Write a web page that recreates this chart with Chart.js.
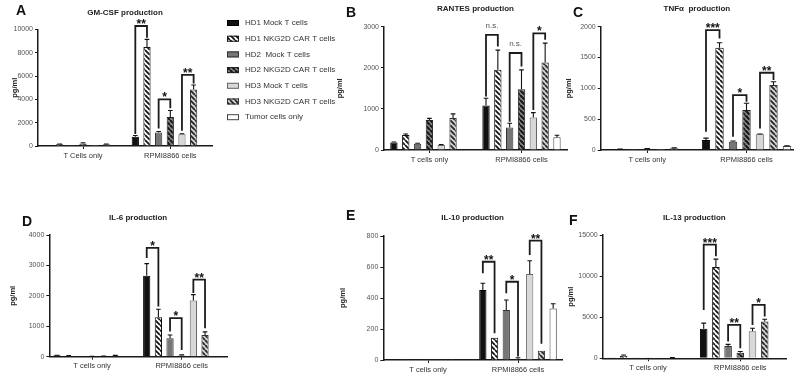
<!DOCTYPE html>
<html><head><meta charset="utf-8">
<script src="https://cdn.jsdelivr.net/npm/chart.js@4.4.1/dist/chart.umd.min.js"></script>
<style>
html,body{margin:0;padding:0;background:#fff;}
#wrap{position:relative;width:800px;height:381px;overflow:hidden;background:#fff;}
#wrap canvas{position:absolute;left:0;top:0;}
</style></head><body>
<div id="wrap">
<canvas id="cA" width="800" height="381"></canvas>
<canvas id="cB" width="800" height="381"></canvas>
<canvas id="cC" width="800" height="381"></canvas>
<canvas id="cD" width="800" height="381"></canvas>
<canvas id="cE" width="800" height="381"></canvas>
<canvas id="cF" width="800" height="381"></canvas>
</div>
<script>
// ---------- DATA ----------
const seriesNames = ['HD1 Mock T cells','HD1 NKG2D CAR T cells','HD2  Mock T cells','HD2 NKG2D CAR T cells','HD3 Mock T cells','HD3 NKG2D CAR T cells','Tumor cells only'];
const categoriesA = ['T Cells only','RPMI8866 cells'];
const categories = ['T cells only','RPMI8866 cells'];

// A: GM-CSF (pg/ml)
const gmcsfTcells    = [10, 140, 10, 220, 10, 140, null];
const gmcsfTcellsErr = [0, 30, 0, 60, 0, 30, null];
const gmcsfRpmi      = [800, 8500, 1150, 2500, 1000, 4850, null];
const gmcsfRpmiErr   = [100, 650, 100, 550, 50, 380, null];
const gmcsfTicks     = [0, 2000, 4000, 6000, 8000, 10000];
// [left series, right series, bracket top, left leg end, right leg end, label]
const gmcsfSig = [[0,1,10300,1030,9300,'**'],[2,3,4000,1500,3230,'*'],[4,5,6100,1300,5370,'**']];

// B: RANTES
const rantesTcells    = [180, 365, 150, 730, 120, 780, null];
const rantesTcellsErr = [15, 25, 15, 40, 15, 100, null];
const rantesRpmi      = [1080, 1950, 550, 1480, 790, 2130, 310];
const rantesRpmiErr   = [180, 480, 100, 470, 120, 470, 50];
const rantesTicks     = [0, 1000, 2000, 3000];
const rantesSig = [[0,1,2800,1300,2520,'n.s.'],[2,3,2360,690,2030,'n.s.'],[4,5,2840,975,2680,'*']];

// C: TNFa
const tnfTcells    = [2, 12, 2, 20, 2, 30, null];
const tnfTcellsErr = [0, 3, 0, 5, 0, 5, null];
const tnfRpmi      = [162, 1660, 135, 648, 254, 1053, 65];
const tnfRpmiErr   = [30, 80, 10, 110, 5, 55, 5];
const tnfTicks     = [0, 500, 1000, 1500, 2000];
const tnfSig = [[0,1,1945,297,1810,'***'],[2,3,890,216,783,'*'],[4,5,1253,350,1134,'**']];

// D: IL-6
const il6Tcells    = [45, 35, 5, 5, 15, 40, null];
const il6TcellsErr = [5, 5, 0, 10, 5, 5, null];
const il6Rpmi      = [2660, 1300, 605, 40, 1850, 715, null];
const il6RpmiErr   = [400, 260, 110, 20, 190, 100, null];
const il6Ticks     = [0, 1000, 2000, 3000, 4000];
const il6Sig = [[0,1,3575,3245,1650,'*'],[2,3,1265,825,220,'*'],[4,5,2530,2090,935,'**']];

// E: IL-10
const il10Tcells    = [2, 1, 2, 1, 2, 1, null];
const il10TcellsErr = [0, 0, 0, 0, 0, 0, null];
const il10Rpmi      = [452, 144, 322, 8, 555, 60, 333];
const il10RpmiErr   = [43, 0, 65, 7, 85, 0, 30];
const il10Ticks     = [0, 200, 400, 600, 800];
const il10Sig = [[0,1,634,560,172,'**'],[2,3,505,430,22,'*'],[4,5,770,677,105,'**']];

// F: IL-13
const il13Tcells    = [10, 300, 10, 10, 10, 60, null];
const il13TcellsErr = [0, 100, 0, 0, 0, 20, null];
const il13Rpmi      = [3580, 11100, 1500, 690, 3290, 4470, null];
const il13RpmiErr   = [700, 970, 200, 130, 370, 280, null];
const il13Ticks     = [0, 5000, 10000, 15000];
const il13Sig = [[0,1,13820,5890,12400,'***'],[2,3,4065,2030,1220,'**'],[4,5,6500,4065,5080,'*']];

// ---------- STYLE / LAYOUT ----------
const FONT = "'Liberation Sans', Arial, sans-serif";
const AXIS = '#1a1a1a';

function stripe(bg, fg, period, lw) {
  const c = document.createElement('canvas'); c.width = period; c.height = period;
  const g = c.getContext('2d');
  g.fillStyle = bg; g.fillRect(0, 0, period, period);
  g.strokeStyle = fg; g.lineWidth = lw;
  g.beginPath();
  for (const o of [-period, 0, period]) { g.moveTo(o, 0); g.lineTo(o + period, period); }
  g.stroke();
  return g.createPattern(c, 'repeat');
}
const styles = [
  {bg: '#111111', border: '#000'},
  {bg: stripe('#ffffff', '#161616', 5, 1.8), border: '#111'},
  {bg: '#767676', border: '#333'},
  {bg: stripe('#8c8c8c', '#1a1a1a', 5, 2.2), border: '#222'},
  {bg: '#d8d8d8', border: '#666'},
  {bg: stripe('#d4d4d4', '#262626', 5, 1.8), border: '#333'},
  {bg: '#ffffff', border: '#444'}
];

const panels = [
  {id:'cA', letter:'A', title:'GM-CSF production', cats:categoriesA, tc:gmcsfTcells, tcE:gmcsfTcellsErr, rp:gmcsfRpmi, rpE:gmcsfRpmiErr, ticks:gmcsfTicks, sig:gmcsfSig,
   lay:{L:38, R:212, top:29.5, bottom:146, c1:83, c2:170.3, s:11.66, yW:32, titleY:12.7, lx:16, ly:11}, legend:true},
  {id:'cB', letter:'B', title:'RANTES production', cats:categories, tc:rantesTcells, tcE:rantesTcellsErr, rp:rantesRpmi, rpE:rantesRpmiErr, ticks:rantesTicks, sig:rantesSig,
   lay:{L:384, R:567, top:26.7, bottom:150, c1:429.4, c2:521.5, s:11.83, yW:53, titleY:8.3, lx:346, ly:13}},
  {id:'cC', letter:'C', title:'TNF\u03B1  production', cats:categories, tc:tnfTcells, tcE:tnfTcellsErr, rp:tnfRpmi, rpE:tnfRpmiErr, ticks:tnfTicks, sig:tnfSig,
   lay:{L:600.7, R:793, top:26.7, bottom:150, c1:647.2, c2:746.5, s:13.5, yW:40, titleY:8.3, lx:573, ly:13}},
  {id:'cD', letter:'D', title:'IL-6 production', cats:categories, tc:il6Tcells, tcE:il6TcellsErr, rp:il6Rpmi, rpE:il6RpmiErr, ticks:il6Ticks, sig:il6Sig,
   lay:{L:49.3, R:227, top:235, bottom:356.7, c1:92, c2:181.7, s:11.66, yW:45, titleY:218, lx:22, ly:222}},
  {id:'cE', letter:'E', title:'IL-10 production', cats:categories, tc:il10Tcells, tcE:il10TcellsErr, rp:il10Rpmi, rpE:il10RpmiErr, ticks:il10Ticks, sig:il10Sig,
   lay:{L:383.3, R:562, top:236, bottom:360, c1:428, c2:518, s:11.72, yW:49, titleY:218, lx:346, ly:216}},
  {id:'cF', letter:'F', title:'IL-13 production', cats:categories, tc:il13Tcells, tcE:il13TcellsErr, rp:il13Rpmi, rpE:il13RpmiErr, ticks:il13Ticks, sig:il13Sig,
   lay:{L:602.7, R:786, top:235, bottom:358.3, c1:648, c2:740.3, s:12.2, yW:40, titleY:218, lx:569, ly:221}}
];

const errorPlugin = {
  id: 'errorBars',
  afterDatasetsDraw(chart) {
    const ctx = chart.ctx, ys = chart.scales.y;
    ctx.save();
    ctx.strokeStyle = '#111'; ctx.lineWidth = 1.1;
    chart.data.datasets.forEach((ds, i) => {
      const meta = chart.getDatasetMeta(i);
      meta.data.forEach((el, j) => {
        const v = ds.data[j].y, e = ds.errors[j];
        if (v == null || !e) return;
        const y1 = ys.getPixelForValue(v + e);
        const half = el.width * 0.32;
        ctx.beginPath();
        ctx.moveTo(el.x, el.y); ctx.lineTo(el.x, y1);
        ctx.moveTo(el.x - half, y1); ctx.lineTo(el.x + half, y1);
        ctx.stroke();
      });
    });
    ctx.restore();
  }
};

function makeSigPlugin(sig) {
  return {
    id: 'sig',
    afterDatasetsDraw(chart) {
      const ctx = chart.ctx, ys = chart.scales.y;
      ctx.save();
      sig.forEach(([a, b, top, ya, yb, lab]) => {
        const xa = chart.getDatasetMeta(a).data[1].x;
        const xb = chart.getDatasetMeta(b).data[1].x;
        const yt = ys.getPixelForValue(top);
        ctx.strokeStyle = '#1c1c1c'; ctx.lineWidth = 1.8; ctx.lineJoin = 'miter';
        ctx.beginPath();
        ctx.moveTo(xa, ys.getPixelForValue(ya));
        ctx.lineTo(xa, yt); ctx.lineTo(xb, yt);
        ctx.lineTo(xb, ys.getPixelForValue(yb));
        ctx.stroke();
        ctx.textAlign = 'center'; ctx.textBaseline = 'alphabetic';
        if (lab === 'n.s.') {
          ctx.fillStyle = '#555'; ctx.font = '8px ' + FONT;
          ctx.fillText(lab, (xa + xb) / 2, yt - 7);
        } else {
          ctx.fillStyle = '#111'; ctx.font = 'bold 12px ' + FONT;
          ctx.fillText(lab, (xa + xb) / 2, yt + 2);
        }
      });
      ctx.restore();
    }
  };
}

function makeTextPlugin(p) {
  return {
    id: 'panelText',
    afterDraw(chart) {
      const ctx = chart.ctx, ca = chart.chartArea;
      ctx.save();
      ctx.fillStyle = '#222';
      ctx.textAlign = 'center'; ctx.textBaseline = 'middle';
      ctx.font = 'bold 8px ' + FONT;
      ctx.fillText(p.title, (ca.left + ca.right) / 2, p.lay.titleY);
      ctx.textAlign = 'left';
      ctx.font = 'bold 14px ' + FONT;
      ctx.fillStyle = '#111';
      ctx.fillText(p.letter, p.lay.lx, p.lay.ly);
      if (p.legend) {
        ctx.font = '8px ' + FONT;
        chart.data.datasets.forEach((ds, i) => {
          const y = 23 + i * 15.7;
          ctx.fillStyle = ds.backgroundColor;
          ctx.fillRect(227, y - 3, 12, 6);
          ctx.strokeStyle = ds.borderColor; ctx.lineWidth = 1;
          ctx.strokeRect(227.5, y - 2.5, 11, 5);
          ctx.fillStyle = '#333';
          ctx.fillText(ds.label, 245, y);
        });
      }
      ctx.restore();
    }
  };
}

function build(p) {
  const lay = p.lay;
  const D = lay.c2 - lay.c1;
  const xmin = -(lay.c1 - lay.L) / D, xmax = 1 + (lay.R - lay.c2) / D;
  const xH = 24;
  const datasets = seriesNames.map((name, i) => ({
    label: name,
    data: [{x: 0, y: p.tc[i]}, {x: 1, y: p.rp[i]}],
    errors: [p.tcE[i], p.rpE[i]],
    backgroundColor: styles[i].bg,
    borderColor: styles[i].border,
    borderWidth: 1,
    categoryPercentage: 7 * lay.s / D,
    barPercentage: 0.62
  }));
  new Chart(document.getElementById(p.id), {
    type: 'bar',
    data: {datasets},
    options: {
      responsive: false, animation: false, devicePixelRatio: 1, events: [],
      layout: {padding: {left: lay.L - lay.yW, right: 800 - lay.R, top: lay.top, bottom: 381 - lay.bottom - xH}},
      plugins: {legend: {display: false}, tooltip: {enabled: false}, title: {display: false}},
      scales: {
        x: {
          type: 'linear', min: xmin, max: xmax, offset: false, bounds: 'data', grace: 0,
          afterBuildTicks: s => { s.ticks = [{value: 0}, {value: 1}]; },
          afterFit: s => { s.height = xH; },
          ticks: {callback: v => p.cats[v], font: {family: FONT, size: 7.5}, color: '#333', padding: 2, autoSkip: false, maxRotation: 0, includeBounds: false},
          grid: {display: true, offset: false, drawOnChartArea: false, drawTicks: true, tickLength: 3, color: AXIS, lineWidth: 1},
          border: {display: true, color: AXIS, width: 1.5}
        },
        y: {
          type: 'linear', min: 0, max: p.ticks[p.ticks.length - 1],
          afterBuildTicks: s => { s.ticks = p.ticks.map(v => ({value: v})); },
          afterFit: s => { s.width = lay.yW; },
          ticks: {callback: v => String(v), font: {family: FONT, size: 7}, color: '#555', padding: 2},
          grid: {display: true, drawOnChartArea: false, drawTicks: true, tickLength: 3, color: AXIS, lineWidth: 1},
          border: {display: true, color: AXIS, width: 1.5},
          title: {display: true, text: 'pg/ml', font: {family: FONT, size: 7.5, weight: 'bold'}, color: '#222', padding: {top: 4, bottom: 0}}
        }
      }
    },
    plugins: [errorPlugin, makeSigPlugin(p.sig), makeTextPlugin(p)]
  });
}
panels.forEach(build);
</script>
</body></html>
